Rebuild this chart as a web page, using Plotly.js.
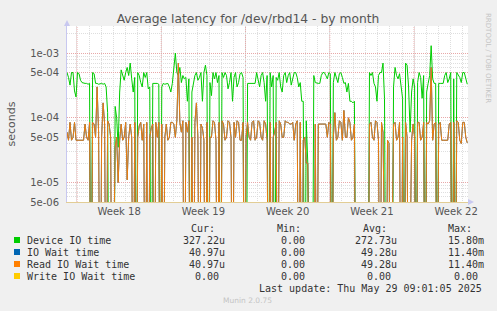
<!DOCTYPE html>
<html><head><meta charset="utf-8">
<script src="https://cdn.plot.ly/plotly-3.0.1.min.js"></script>
<style>html,body{margin:0;padding:0;background:#f0f0f0;}#chart{width:497px;height:311px;}</style>
</head><body><div id="chart"></div>
<script>
// ---------- data ----------
const chartTitle = "Average latency for /dev/rbd14 - by month";
const yAxisTitle = "seconds";
const weekLabels = ["Week 18", "Week 19", "Week 20", "Week 21", "Week 22"];
const weekLabelDays = [3.5, 10.5, 17.5, 24.5, 31.5];
const weekStartDays = [0, 7, 14, 21, 28];
const dayGridDays = [0,1,2,3,4,5,6,7,8,9,10,11,12,13,14,15,16,17,18,19,20,21,22,23,24,25,26,27,28,29,30,31,32];
const xRangeDays = [-0.83, 32.48];
const sampleStartDay = -0.83;
const sampleStepDays = 0.125; // one sample every 3 hours
const yTickVals = [5e-6, 1e-5, 5e-5, 1e-4, 5e-4, 1e-3];
const yTickText = ["5e-06", "1e-05", "5e-05", "1e-04", "5e-04", "1e-03"];
const yMinorVals = [6e-6,7e-6,8e-6,9e-6,2e-5,3e-5,4e-5,6e-5,7e-5,8e-5,9e-5,2e-4,3e-4,4e-4,6e-4,7e-4,8e-4,9e-4,2e-3];
const yRangeVals = [5e-6, 2.62e-3];

// values in microseconds (0 = zero latency, null = no data)
const deviceIoUs = [
 500,420, 320,500, 500,260, 210,500, 480,380, 350,340, 340,340, 330,340, 0,500, 480,340,
 340,330, 340,340, 330,340, 300,120, 0,0, 0,0, 150,100, 35,250, 550,450, 380,500,
 600,450, 700,400, 250,420, 0,500, 450,350, 300,500, 420,500, 280,300, 0,340, 340,340,
 340,330, 0,300, 340,330, 340,340, 300,250, 340,600, 1000,500, 450,600, 350,450, 400,420,
 180,400, 0,250, 350,450, 500,380, 420,500, 180,500, 650,450, 0,350, 220,500, 400,500,
 350,450, 0,500, 420,500, 450,280, 350,500, 180,420, 500,300, 350,480, 500,420, 0,0,
 340,340, 340,340, 340,340, 500,400, 300,450, 500,350, 180,450, 0,500, 300,450, 0,420,
 380,500, 300,250, 450,500, 350,450, 500,320, 400,500, 500,420, 300,350, 180,180, 0,90,
 20,0, 0,0, 450,350, 340,340, 340,450, 500,500, 450,400, 500,480, 0,350, 500,420,
 350,480, 500,420, 340,350, 250,340, 180,180, 170,180, 0,null, null,null, null,null, null,null,
 0,500, 450,500, 340,300, 180,450, 500,500, 700,200, 0,0, 0,0, 0,300, 600,450,
 400,480, 300,200, 0,700, 650,300, 60,250, 400,300, 0,350, 500,420, 200,450, 0,250,
 340,450, 1300,400, 340,340, 0,340, 340,340, 340,450, 500,350, 400,500, 0,400, 0,500,
 450,420, 350,500, 500,400, 330
];
const readIoWaitUs = [
 60,45, 85,45, 50,85, 45,45, 45,45, 45,45, 80,50, 45,85, 0,85, 80,50,
 300,60, 0,50, 170,80, 0,90, 80,50, 0,0, 35,50, 10,45, 80,45, 50,85,
 11,50, 80,50, 0,85, 0,50, 75,85, 45,80, 0,85, 0,50, 70,80, 0,85,
 50,85, 0,80, 0,50, 80,45, 50,85, 85,80, 50,90, 700,85, 60,90, 0,85,
 60,90, 0,50, 0,85, 170,50, 0,80, 70,45, 0,85, 0,50, 50,90, 85,45,
 0,85, 0,90, 80,45, 50,90, 85,50, 0,85, 50,90, 85,45, 45,85, 0,50,
 85,50, 45,85, 90,45, 50,90, 85,50, 45,90, 80,45, 0,85, 0,50, 60,85,
 0,90, 80,50, 50,90, 85,85, 80,80, 85,45, 80,90, 0,85, 0,45, 50,20,
 20,0, 0,0, 0,80, 0,80, 80,82, 80,82, 80,50, 85,80, 0,50, 120,45,
 50,90, 85,45, 130,50, 50,100, 85,45, 50,80, 0,null, null,null, null,null, null,null,
 0,80, 85,50, 45,90, 85,45, 0,85, 60,0, 0,45, 40,0, 0,80, 85,45,
 50,85, 0,50, 0,85, 50,0, 0,45, 80,50, 0,85, 85,45, 50,85, 0,85,
 80,90, 600,45, 80,85, 0,80, 85,45, 45,45, 45,45, 80,85, 0,85, 0,90,
 85,45, 40,85, 85,50, 41
];
const ioWaitUs = readIoWaitUs; // IO Wait time equals Read IO Wait time (same Cur/Avg/Max)
const writeIoWaitUs = [
 0,0,0,0,0,0,0,0,0,0, 0,0,0,0,0,0,0,0,0,0, 0,0,0,0,0,0,0,0,0,0, 0,0,0,0,0,0,0,0,0,0,
 0,0,0,0,0,0,0,0,0,0, 0,0,0,0,0,0,0,0,0,0, 0,0,0,0,0,0,0,0,0,0, 0,0,0,0,0,0,0,0,0,0,
 0,0,0,0,0,0,0,0,0,0, 0,0,0,0,0,0,0,0,0,0, 0,0,0,0,0,0,0,0,0,0, 0,0,0,0,0,0,0,0,0,0,
 0,0,0,0,0,0,0,0,0,0, 0,0,0,0,0,0,0,0,0,0, 0,0,0,0,0,0,0,0,0,0, 0,0,0,0,0,0,0,0,0,0,
 0,0,0,0,0,0,0,0,0,0, 0,0,0,0,0,0,0,0,0,0, 0,0,0,0,0,0,0,0,0,0, 0,0,0,0,0,0,0,0,0,0,
 0,0,0,0,0,0,0,0,0,0, 0,0,0,0,0,0,0,0,0,0, 0,0,0,0,0,0,0,0,0,0, 0,0,0,0,0,0,0,0,0,0,
 0,0,0,0,0,0,0,0,0,0, 0,0,0,0,0,0,0,0,0,0, 0,0,0,0,0,0,0
];

const seriesNames = ["Device IO time", "IO Wait time", "Read IO Wait time", "Write IO Wait time"];
const seriesColors = ["#00cc00", "#0066b3", "#ff8000", "#ffcc00"];
const curVals = ["327.22u", "40.97u", "40.97u", "0.00"];
const minVals = ["0.00", "0.00", "0.00", "0.00"];
const avgVals = ["272.73u", "49.28u", "49.28u", "0.00"];
const maxVals = ["15.80m", "11.40m", "11.40m", "0.00"];
const colHeaders = ["Cur:", "Min:", "Avg:", "Max:"];
const lastUpdate = "Last update: Thu May 29 09:01:05 2025";
const footer = "Munin 2.0.75";
const sideText = "RRDTOOL / TOBI OETIKER";

// ---------- build ----------
const times = deviceIoUs.map((_, i) => sampleStartDay + i * sampleStepDays);
const BELOW = 1e-8; // zero latency plotted below the log axis floor (clipped at bottom)
const toSec = arr => arr.map(v => v === null ? null : (v > 0 ? v * 1e-6 : BELOW));

const seriesData = [deviceIoUs, ioWaitUs, readIoWaitUs, writeIoWaitUs];
const traces = seriesData.map((arr, k) => ({
  x: times.slice(0, arr.length), y: toSec(arr), type: 'scatter', mode: 'lines', name: seriesNames[k],
  line: {color: seriesColors[k], width: 1}, opacity: k === 2 ? 0.93 : 1,
  connectgaps: false, hoverinfo: 'skip', showlegend: false
}));

// pixel helpers for the plot frame (l=67, t=26, w=401, h=176)
const PL = 67, PT = 26, PW = 401, PH = 176;
const px = x => (x - PL) / PW;
const py = y => (PT + PH - y) / PH;

const mono = {family: "DejaVu Sans Mono", size: 10, color: "#333"};
const annotations = [];
const shapes = [];

// weekly major grid lines
weekStartDays.forEach(d => shapes.push({type: 'line', xref: 'x', yref: 'paper', x0: d, x1: d, y0: 0, y1: 1,
  line: {color: '#e8a8a8', width: 1, dash: '1px,1px'}, layer: 'below'}));

// axis arrows
shapes.push({type: 'path', xref: 'paper', yref: 'paper', xsizemode: 'pixel', ysizemode: 'pixel',
  xanchor: 0, yanchor: 1, path: 'M -3 0 L 3 0 L 0 6 Z', fillcolor: '#c8c8f0', line: {width: 0}});
shapes.push({type: 'path', xref: 'paper', yref: 'paper', xsizemode: 'pixel', ysizemode: 'pixel',
  xanchor: 1, yanchor: 0, path: 'M 0 -3 L 0 3 L 6 0 Z', fillcolor: '#c8c8f0', line: {width: 0}});

// legend
const rowY = [240, 252, 264, 276];
const colRight = [225.5, 311.8, 397.7, 484.5];
const headerLeft = [190, 276, 361.7, 446.7];
colHeaders.forEach((h, c) => annotations.push({xref: 'paper', yref: 'paper', x: px(headerLeft[c]), y: py(228.3),
  xanchor: 'left', yanchor: 'middle', text: h, showarrow: false, font: mono, borderpad: 0}));
const fmt = v => /[a-z]$/.test(v) ? v : v + "\u00a0";
seriesNames.forEach((name, r) => {
  shapes.push({type: 'rect', xref: 'paper', yref: 'paper', x0: px(14), x1: px(20), y0: py(rowY[r] - 3), y1: py(rowY[r] + 3),
    fillcolor: seriesColors[r], line: {width: 0}});
  annotations.push({xref: 'paper', yref: 'paper', x: px(26), y: py(rowY[r]), xanchor: 'left', yanchor: 'middle',
    text: name, showarrow: false, font: mono, borderpad: 0});
  [curVals, minVals, avgVals, maxVals].forEach((col, c) => annotations.push({xref: 'paper', yref: 'paper',
    x: px(colRight[c]), y: py(rowY[r]), xanchor: 'right', yanchor: 'middle', text: fmt(col[r]),
    showarrow: false, font: mono, borderpad: 0}));
});
annotations.push({xref: 'paper', yref: 'paper', x: px(482.7), y: py(288), xanchor: 'right', yanchor: 'middle',
  text: lastUpdate, showarrow: false, font: mono, borderpad: 0});
annotations.push({xref: 'paper', yref: 'paper', x: px(247.5), y: py(300.5), xanchor: 'center', yanchor: 'middle',
  text: footer, showarrow: false, font: {family: "DejaVu Sans", size: 7.5, color: "#c4c4c4"}, borderpad: 0});
annotations.push({xref: 'paper', yref: 'paper', x: px(11), y: py(124.5), xanchor: 'center', yanchor: 'middle',
  text: yAxisTitle, textangle: -90, showarrow: false, font: {family: "DejaVu Sans", size: 11, color: "#555"}, borderpad: 0});
annotations.push({xref: 'paper', yref: 'paper', x: px(488), y: py(58), xanchor: 'center', yanchor: 'middle',
  text: sideText, textangle: 90, showarrow: false, font: {family: "DejaVu Sans", size: 7, color: "#c4c4c4"}, borderpad: 0});

const layout = {
  width: 497, height: 311,
  margin: {l: PL, r: 497 - PL - PW, t: PT, b: 311 - PT - PH, pad: 0},
  paper_bgcolor: '#f0f0f0', plot_bgcolor: '#ffffff',
  title: {text: chartTitle, x: 248 / 497, xanchor: 'center', xref: 'container', y: 1 - 19 / 311, yanchor: 'middle', yref: 'container',
    font: {family: "DejaVu Sans", size: 12.3, color: "#555"}},
  showlegend: false,
  xaxis: {range: xRangeDays, tickmode: 'array', tickvals: weekLabelDays, ticktext: weekLabels, showgrid: false,
    zeroline: false, ticks: '', showline: true, linecolor: '#e2cd95', linewidth: 1,
    tickfont: {family: "DejaVu Sans", size: 10, color: "#555"}, fixedrange: true,
    minor: {tickmode: 'array', tickvals: dayGridDays, showgrid: true, gridcolor: '#dedede', griddash: '1px,1px', gridwidth: 1, ticks: ''}},
  yaxis: {type: 'log', range: yRangeVals.map(Math.log10), tickmode: 'array', tickvals: yTickVals, ticktext: yTickText,
    showgrid: true, gridcolor: '#e8a8a8', griddash: '1px,1px', gridwidth: 1, zeroline: false, ticks: '',
    showline: true, linecolor: '#c8c8f0', linewidth: 1, ticklabelstandoff: 5,
    tickfont: {family: "DejaVu Sans", size: 10, color: "#555"}, fixedrange: true,
    minor: {tickmode: 'array', tickvals: yMinorVals, showgrid: true, gridcolor: '#dedede', griddash: '1px,1px', gridwidth: 1, ticks: ''}},
  shapes: shapes, annotations: annotations
};
Plotly.newPlot('chart', traces, layout, {displayModeBar: false, staticPlot: true});
</script></body></html>
